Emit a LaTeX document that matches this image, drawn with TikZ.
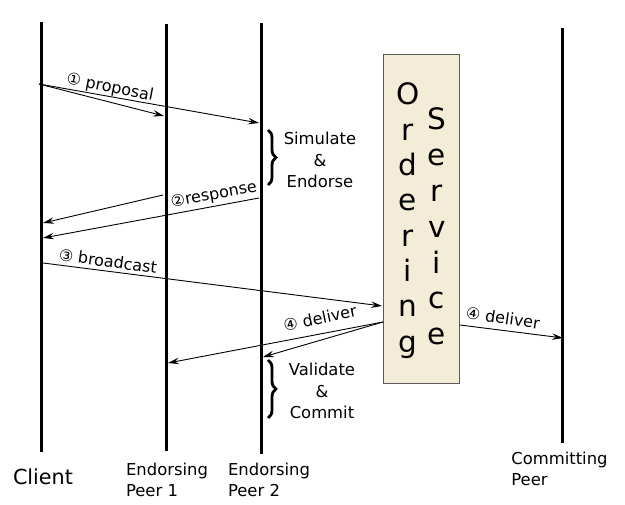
\documentclass[tikz,border=0pt]{standalone}
\usepackage{fontspec}
\setmainfont{DejaVu Sans}
\usetikzlibrary{arrows.meta,decorations.pathreplacing}

\definecolor{boxfill}{RGB}{243,236,215}
\definecolor{boxline}{RGB}{90,90,90}

\tikzset{
  lifeline/.style={line width=3pt},
  msg/.style={line width=0.9pt, -{Stealth[length=11pt,width=6.5pt,inset=4pt]}},
  msglabel/.style={font=\fontsize{16}{19}\selectfont, inner sep=0pt},
  actor/.style={font=\fontsize{16.4}{21}\selectfont, align=left, inner sep=0pt},
  stepnote/.style={font=\fontsize{16.4}{21.5}\selectfont, align=center, inner sep=0pt},
  curly/.style={decorate, decoration={brace, amplitude=8pt}, line width=2.8pt},
  boxletter/.style={font=\fontsize{29.5}{35}\selectfont, inner sep=0pt, anchor=base}
}

\begin{document}
\begin{tikzpicture}[x=1pt,y=-1pt]
\useasboundingbox (0,0) rectangle (625,505);

% Lifeline ends
\coordinate (client-top) at (41,22);
\coordinate (client-bot) at (41,452);
\coordinate (peerA-top) at (166,24);
\coordinate (peerA-bot) at (166,451);
\coordinate (peerB-top) at (261,23);
\coordinate (peerB-bot) at (261,454);
\coordinate (commit-top) at (562,28);
\coordinate (commit-bot) at (562,443);

% Drawing lifelines
\draw[lifeline] (client-top) -- (client-bot);
\draw[lifeline] (peerA-top) -- (peerA-bot);
\draw[lifeline] (peerB-top) -- (peerB-bot);
\draw[lifeline] (commit-top) -- (commit-bot);

% Actor names
\node[actor, font=\fontsize{20.7}{25}\selectfont] (client) at (43,477) {Client};
\node[actor] (peerA) at (167,479.5) {Endorsing\\Peer 1};
\node[actor] (peerB) at (269,479.5) {Endorsing\\Peer 2};
\node[actor] (commit) at (559.5,469) {Committing\\Peer};

% Ordering service box
\node[draw=boxline, fill=boxfill, line width=0.8pt, minimum width=76pt, minimum height=329pt, inner sep=0pt] (orderer) at (421,218.5) {};
\foreach \ch [count=\i] in {O,r,d,e,r,i,n,g}
  \node[boxletter] (ord\i) at (408,105+35.3*\i-35.3) {\ch};
\foreach \ch [count=\i] in {S,e,r,v,i,c,e}
  \node[boxletter] (srv\i) at (437,130+35.8*\i-35.8) {\ch};

% Message end points
\coordinate (p-from) at (39,84);
\coordinate (p-toA) at (164,116);
\coordinate (p-toB) at (259,123);
\coordinate (r-fromA) at (163,195);
\coordinate (r-fromB) at (259,198);
\coordinate (r-toA) at (43,223);
\coordinate (r-toB) at (43,238);
\coordinate (b-from) at (43,263);
\coordinate (b-to) at (382,306);
\coordinate (d-from) at (383,322);
\coordinate (d-toA) at (168,363);
\coordinate (d-toB) at (263,357);
\coordinate (d-fromR) at (460,325);
\coordinate (d-toR) at (563,338);

% Drawing proposal
\draw[msg] (p-from) -- (p-toA);
\draw[msg] (p-from) -- (p-toB);
\node[msglabel, rotate=-11] (prop) at (110,88) {① proposal};

% Drawing simulate brace
\draw[curly] (268,130) -- (268,185);
\node[stepnote] (simulate) at (320,160) {Simulate\\\&\\Endorse};

% Drawing response
\draw[msg] (r-fromA) -- (r-toA);
\draw[msg] (r-fromB) -- (r-toB);
\node[msglabel, rotate=10.5] (resp) at (214,195) {②response};

% Drawing broadcast
\draw[msg] (b-from) -- (b-to);
\node[msglabel, rotate=-8] (bcast) at (108,261) {③ broadcast};

% Drawing deliver
\draw[msg] (d-from) -- (d-toA);
\draw[msg] (d-from) -- (d-toB);
\node[msglabel, rotate=12] (dlvA) at (320,318) {④ deliver};
\draw[msg] (d-fromR) -- (d-toR);
\node[msglabel, rotate=-8] (dlvB) at (503,318) {④ deliver};

% Drawing validate brace
\draw[curly] (268,360) -- (268,418);
\node[stepnote] (validate) at (322,391) {Validate\\\&\\Commit};
\end{tikzpicture}
\end{document}
